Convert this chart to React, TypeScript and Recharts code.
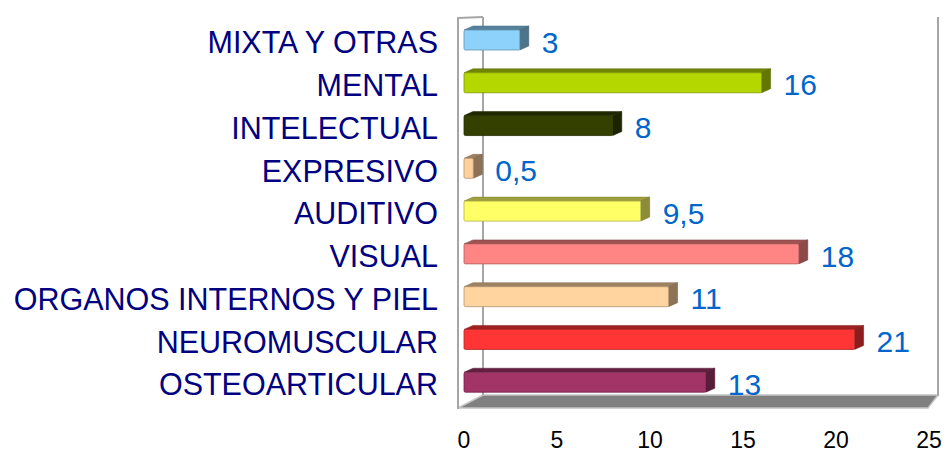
import { BarChart, Bar, XAxis, YAxis, LabelList, Cell } from 'recharts'

const CATEGORIES = [
  'MIXTA Y OTRAS',
  'MENTAL',
  'INTELECTUAL',
  'EXPRESIVO',
  'AUDITIVO',
  'VISUAL',
  'ORGANOS INTERNOS Y PIEL',
  'NEUROMUSCULAR',
  'OSTEOARTICULAR',
]
const VALUES = [3, 16, 8, 0.5, 9.5, 18, 11, 21, 13]
const X_TICKS = [0, 5, 10, 15, 20, 25]

// one colour per category, same order
const BAR_COLORS = [
  '#8cd2fb',
  '#b5d700',
  '#334000',
  '#ffd09c',
  '#ffff66',
  '#ff8585',
  '#ffd49e',
  '#ff3535',
  '#a23467',
]

const data = CATEGORIES.map((name, i) => ({ name, value: VALUES[i] }))

const DEPTH_X = 9
const DEPTH_Y = 4
const FONT = "'Liberation Sans', Arial, sans-serif"

function shade(hex: string, f: number) {
  const n = parseInt(hex.slice(1), 16)
  const r = Math.round(((n >> 16) & 255) * f)
  const g = Math.round(((n >> 8) & 255) * f)
  const b = Math.round((n & 255) * f)
  return `rgb(${r},${g},${b})`
}

function Bar3D(props: any) {
  const { x, y, width, height, fill } = props
  if (width == null || height == null) return null
  const w = Math.max(width, 0)
  const top = `${x},${y} ${x + DEPTH_X},${y - DEPTH_Y} ${x + w + DEPTH_X},${y - DEPTH_Y} ${x + w},${y}`
  const side = `${x + w},${y} ${x + w + DEPTH_X},${y - DEPTH_Y} ${x + w + DEPTH_X},${y + height - DEPTH_Y} ${x + w},${y + height}`
  return (
    <g>
      <polygon points={top} fill={shade(fill, 0.62)} stroke={shade(fill, 0.5)} strokeWidth={0.5} />
      <polygon points={side} fill={shade(fill, 0.55)} stroke={shade(fill, 0.45)} strokeWidth={0.5} />
      <rect x={x} y={y} width={w} height={height} rx={1.5} fill={fill} stroke={shade(fill, 0.7)} strokeWidth={0.8} />
    </g>
  )
}

function CategoryTick(props: any) {
  const { x, y, payload } = props
  return (
    <text x={x} y={y + 2} dy="0.355em" textAnchor="end" fill="#000080" fontSize={30.5} fontFamily={FONT}>
      {payload.value}
    </text>
  )
}

function ValueLabel(props: any) {
  const { x, y, width, height, value } = props
  return (
    <text
      x={x + width + 22}
      y={y + height / 2 + 2}
      dy="0.355em"
      textAnchor="start"
      fill="#0066cc"
      fontSize={30}
      fontFamily={FONT}
    >
      {String(value).replace('.', ',')}
    </text>
  )
}

export default function App() {
  return (
    <div style={{ position: 'absolute', left: 0, top: 0, width: 945, height: 454, background: '#fff' }}>
      {/* 3D box behind the bars */}
      <svg width={945} height={454} style={{ position: 'absolute', left: 0, top: 0 }}>
        <polygon points="458,408 483,395 938,395 928,408" fill="#808080" stroke="#c4c4c4" strokeWidth={1.5} />
        <line x1={458} y1={17} x2={458} y2={409} stroke="#a6a6a6" strokeWidth={2} />
        <line x1={458} y1={18} x2={483} y2={17} stroke="#a6a6a6" strokeWidth={2} />
        <line x1={483} y1={17} x2={483} y2={395} stroke="#a6a6a6" strokeWidth={2} />
        <line x1={938} y1={17} x2={938} y2={396} stroke="#a6a6a6" strokeWidth={2} />
      </svg>
      <div style={{ position: 'absolute', left: 0, top: 0 }}>
        <BarChart
          width={945}
          height={454}
          data={data}
          layout="vertical"
          margin={{ top: 19, right: 16, bottom: 0, left: 0 }}
        >
          <XAxis
            type="number"
            domain={[0, 25]}
            ticks={X_TICKS}
            axisLine={false}
            tickLine={false}
            tickSize={6}
            tickMargin={22}
            height={50}
            tick={{ fill: '#000', fontSize: 23, fontFamily: FONT }}
          />
          <YAxis
            type="category"
            dataKey="name"
            width={464}
            axisLine={false}
            tickLine={false}
            tickSize={6}
            tickMargin={20}
            interval={0}
            tick={<CategoryTick />}
          />
          <Bar dataKey="value" barSize={20} isAnimationActive={false} shape={(p: any) => <Bar3D {...p} />}>
            {data.map((d, i) => (
              <Cell key={d.name} fill={BAR_COLORS[i]} />
            ))}
            <LabelList dataKey="value" content={<ValueLabel />} />
          </Bar>
        </BarChart>
      </div>
    </div>
  )
}
